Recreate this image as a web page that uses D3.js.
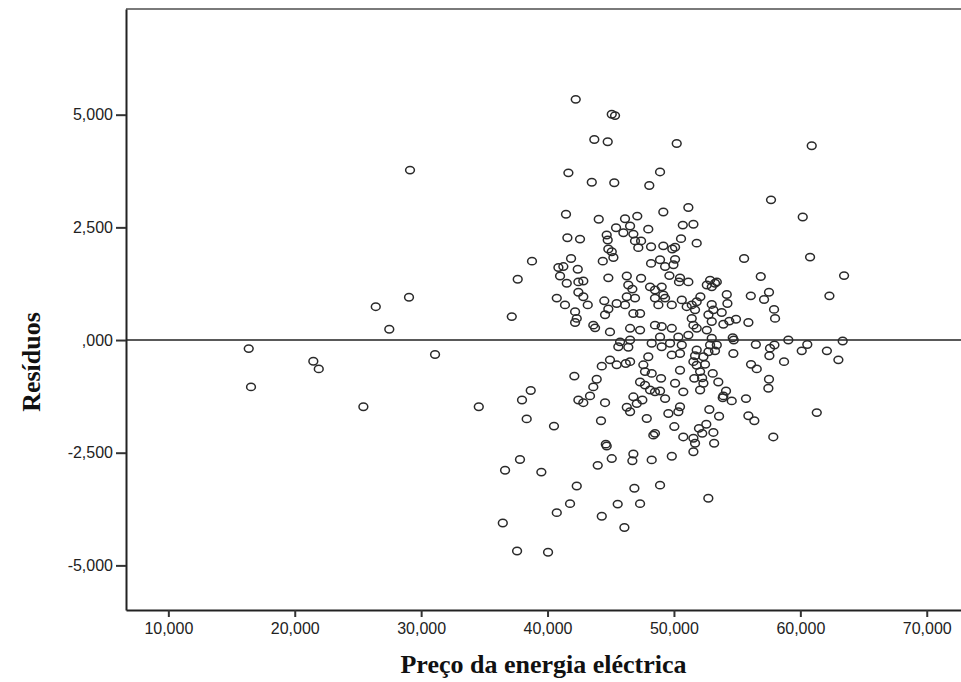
<!DOCTYPE html>
<html><head><meta charset="utf-8">
<script src="https://cdn.jsdelivr.net/npm/d3@7"></script>
<style>body{margin:0;background:#fff}</style>
</head><body>
<svg id="c" width="961" height="682"></svg>
<script>
// Preço da energia eléctrica (x) and Resíduos (y)
const priceValues = [
16.36,16.54,21.47,21.90,25.43,26.41,27.48,29.04,29.12,31.10,34.56,38.77,37.64,37.17,38.67,37.98,38.35,40.51,37.82,36.64,39.51,40.73,36.46,37.59,40.04,
42.23,45.08,45.34,43.70,44.76,50.22,41.65,43.50,45.28,48.90,48.05,41.46,44.05,49.16,51.14,46.13,47.10,45.42,46.53,47.97,50.70,51.54,
41.57,42.57,44.68,44.76,46.00,46.79,46.92,47.40,47.18,48.19,49.16,49.87,50.09,50.56,44.81,45.08,45.21,44.37,41.86,40.86,41.25,42.39,
40.99,41.52,42.44,42.83,44.81,46.27,47.40,48.19,48.90,49.30,49.96,50.09,49.64,50.48,50.40,51.14,46.39,46.71,46.27,46.92,48.11,48.50,
49.03,49.16,42.44,42.83,43.18,41.38,40.73,44.49,44.81,45.47,44.55,46.13,46.79,47.32,48.50,48.77,49.30,49.83,50.62,51.01,
42.18,42.31,42.18,43.62,43.76,44.94,46.53,47.32,48.50,49.03,49.83,
45.74,46.53,48.24,48.90,49.69,50.35,50.62,51.14,45.60,46.39,49.03,49.83,50.48,44.94,44.29,45.47,46.19,46.53,47.58,47.97,47.71,48.24,
42.12,43.89,43.62,43.36,42.44,42.83,44.55,47.32,47.71,48.11,48.50,48.90,49.30,48.98,46.79,47.50,46.27,46.53,47.06,50.48,50.09,50.74,
49.56,50.48,50.35,47.85,44.23,50.03,50.74,48.37,48.50,44.61,44.68,45.08,43.97,46.79,46.71,48.24,49.83,42.31,46.87,48.90,41.78,45.55,
47.32,44.29,46.08,
60.90,57.68,60.19,60.77,55.55,56.87,51.80,56.08,57.13,57.52,57.92,58.00,55.89,62.30,52.86,53.25,52.99,52.60,53.39,54.18,54.23,52.09,
51.80,51.41,51.67,52.99,53.12,52.73,52.99,52.60,53.78,53.91,54.38,54.91,51.41,51.54,51.80,54.65,54.73,52.99,56.48,57.95,59.05,60.55,
62.10,60.11,57.60,57.55,58.71,54.70,56.10,56.55,57.52,57.47,51.80,51.67,52.33,52.73,53.25,53.39,52.86,51.54,51.80,52.46,52.07,51.61,
52.23,52.33,52.07,53.07,53.51,53.91,54.12,54.57,53.86,55.70,55.89,56.36,61.30,52.80,53.57,57.86,52.56,51.98,52.24,51.54,51.67,51.54,
53.12,53.18,52.72,63.46,63.35,63.01
];
const residualValues = [
-0.19,-1.04,-0.47,-0.64,-1.48,0.74,0.24,0.95,3.77,-0.32,-1.48,1.75,1.35,0.52,-1.12,-1.33,-1.75,-1.91,-2.65,-2.89,-2.93,-3.83,-4.06,-4.68,-4.71,
5.34,5.01,4.98,4.45,4.40,4.36,3.71,3.50,3.49,3.73,3.43,2.79,2.68,2.84,2.94,2.69,2.75,2.49,2.53,2.46,2.55,2.57,
2.27,2.24,2.33,2.22,2.38,2.35,2.20,2.20,2.05,2.07,2.09,2.02,2.06,2.25,2.02,1.96,1.83,1.75,1.81,1.61,1.63,1.57,
1.42,1.26,1.29,1.31,1.38,1.42,1.37,1.70,1.78,1.63,1.67,1.79,1.43,1.38,1.29,1.29,1.22,1.13,0.96,0.93,1.18,1.11,
1.18,1.00,1.06,0.96,0.78,0.78,0.93,0.87,0.69,0.81,0.56,0.78,0.59,0.59,0.93,0.78,0.93,0.78,0.89,0.74,
0.63,0.48,0.39,0.33,0.27,0.18,0.26,0.22,0.33,0.30,0.26,
-0.04,0.00,-0.07,0.07,-0.07,0.07,-0.11,0.11,-0.15,-0.16,-0.15,-0.33,-0.30,-0.44,-0.58,-0.55,-0.52,-0.48,-0.55,-0.37,-0.70,-0.74,
-0.80,-0.87,-1.04,-1.24,-1.33,-1.39,-1.39,-0.93,-1.00,-1.11,-1.15,-1.13,-1.30,-0.85,-1.26,-1.33,-1.49,-1.59,-1.41,-0.67,-0.96,-1.15,
-1.63,-1.48,-1.59,-1.74,-1.79,-1.92,-2.15,-2.11,-2.07,-2.31,-2.35,-2.63,-2.78,-2.53,-2.68,-2.66,-2.58,-3.24,-3.29,-3.22,-3.63,-3.64,
-3.63,-3.91,-4.16,
4.31,3.11,2.73,1.84,1.81,1.41,2.15,0.98,0.90,1.06,0.68,0.48,0.39,0.98,1.33,1.26,1.18,1.22,1.29,1.01,0.81,0.96,
0.85,0.78,0.67,0.79,0.67,0.56,0.41,0.22,0.61,0.35,0.42,0.46,0.48,0.33,0.26,0.05,0.00,0.04,-0.10,-0.11,0.00,-0.10,
-0.24,-0.24,-0.18,-0.35,-0.48,-0.30,-0.54,-0.64,-0.87,-1.07,-0.22,-0.35,-0.37,-0.26,-0.24,-0.11,-0.11,-0.48,-0.56,-0.54,-0.70,-0.85,
-0.84,-0.96,-1.11,-0.74,-0.93,-1.24,-1.13,-1.35,-1.28,-1.30,-1.68,-1.79,-1.61,-1.54,-1.69,-2.15,-1.87,-1.96,-2.07,-2.18,-2.29,-2.48,
-2.05,-2.29,-3.51,1.43,-0.02,-0.44
];
const xTickValues = [10, 20, 30, 40, 50, 60, 70];
const yTickValues = [-5, -2.5, 0, 2.5, 5];
const xTitle = "Preço da energia eléctrica";
const yTitle = "Resíduos";

const plot = {left: 126, top: 9, right: 961, bottom: 610};
const svg = d3.select("#c");

const x = d3.scaleLinear().domain([6.65, 72.71]).range([plot.left, plot.right]);
const y = d3.scaleLinear().domain([-5.99, 7.345]).range([plot.bottom, plot.top]);

const loc = d3.formatLocale({decimal: ",", thousands: ".", grouping: [3], currency: ["", ""], minus: "-"});
const f3 = loc.format(".3f");
const lab = v => { const s = f3(v); return s === "0,000" ? ",000" : s; };

// top border
svg.append("line").attr("x1", plot.left).attr("x2", plot.right).attr("y1", plot.top).attr("y2", plot.top)
  .attr("stroke", "#7a7a7a").attr("stroke-width", 2);

// zero reference line
svg.append("line").attr("x1", plot.left).attr("x2", plot.right).attr("y1", y(0)).attr("y2", y(0))
  .attr("stroke", "#222").attr("stroke-width", 1.6);

// points
svg.append("g").selectAll("ellipse").data(priceValues.map((p, i) => [p, residualValues[i]])).join("ellipse")
  .attr("cx", d => x(d[0])).attr("cy", d => y(d[1]))
  .attr("rx", 4.4).attr("ry", 3.7)
  .attr("fill", "none").attr("stroke", "#2a2a2a").attr("stroke-width", 1.5);

// axes
const ax = svg.append("g").attr("transform", `translate(0,${plot.bottom})`)
  .call(d3.axisBottom(x).tickValues(xTickValues).tickFormat(lab).tickSize(7).tickSizeOuter(0).tickPadding(6));
const ay = svg.append("g").attr("transform", `translate(${plot.left},0)`)
  .call(d3.axisLeft(y).tickValues(yTickValues).tickFormat(lab).tickSize(10).tickSizeOuter(0).tickPadding(3));
[ax, ay].forEach(g => {
  g.select(".domain").attr("stroke", "#222").attr("stroke-width", 2);
  g.selectAll(".tick line").attr("stroke", "#333").attr("stroke-width", 2);
  g.selectAll(".tick text").attr("fill", "#222").style("font-family", "'Liberation Sans', Arial, sans-serif").style("font-size", "16px");
});

svg.append("text").attr("x", (plot.left + plot.right) / 2).attr("y", 673)
  .attr("text-anchor", "middle").style("font-family", "'Liberation Serif', 'Times New Roman', serif")
  .style("font-weight", "bold").style("font-size", "26px").attr("fill", "#111").text(xTitle);

svg.append("text").attr("transform", `translate(40,362) rotate(-90)`)
  .attr("text-anchor", "middle").style("font-family", "'Liberation Serif', 'Times New Roman', serif")
  .style("font-weight", "bold").style("font-size", "26px").attr("fill", "#111").text(yTitle);
</script>
</body></html>
